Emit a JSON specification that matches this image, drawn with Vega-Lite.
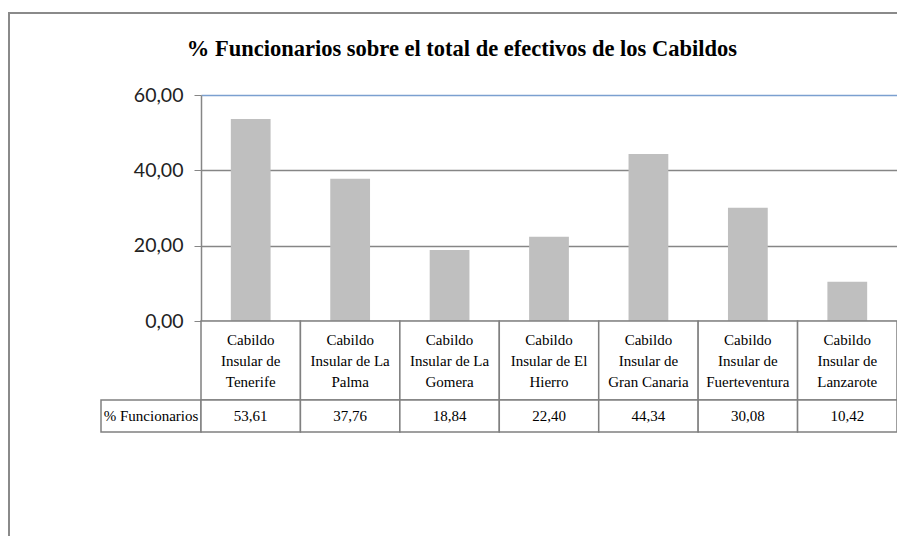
{
  "$schema": "https://vega.github.io/schema/vega-lite/v6.json",
  "padding": {"left": 8, "top": 12, "right": 0, "bottom": 0},
  "background": "white",
  "datasets": {
    "cab": [
      {"cabildo": "Cabildo\nInsular de\nTenerife", "pct": 53.61},
      {"cabildo": "Cabildo\nInsular de La\nPalma", "pct": 37.76},
      {"cabildo": "Cabildo\nInsular de La\nGomera", "pct": 18.84},
      {"cabildo": "Cabildo\nInsular de El\nHierro", "pct": 22.40},
      {"cabildo": "Cabildo\nInsular de\nGran Canaria", "pct": 44.34},
      {"cabildo": "Cabildo\nInsular de\nFuerteventura", "pct": 30.08},
      {"cabildo": "Cabildo\nInsular de\nLanzarote", "pct": 10.42}
    ],
    "serie": [{"serie": "% Funcionarios"}]
  },
  "hconcat": [
    {
      "width": 2,
      "height": 524,
      "data": {"values": []},
      "mark": "text",
      "view": {"stroke": null, "fill": "#8A8A8A"}
    },
    {
      "spacing": 81,
      "bounds": "flush",
      "vconcat": [
        {
          "width": 887,
          "height": 2,
          "data": {"values": []},
          "mark": "text",
          "view": {"stroke": null, "fill": "#8A8A8A"}
        },
        {
          "title": {
            "text": "% Funcionarios sobre el total de efectivos de los Cabildos",
            "font": "Liberation Serif",
            "fontSize": 22.5,
            "fontWeight": "bold",
            "color": "#000000",
            "anchor": "middle",
            "dx": 8,
            "offset": 25
          },
          "columns": 2,
          "spacing": 0,
          "bounds": "flush",
          "resolve": {"scale": {"x": "independent", "y": "independent"}},
          "concat": [
            {
              "width": 191,
              "height": 226,
              "data": {"values": []},
              "mark": "text",
              "view": {"stroke": null}
            },
            {
              "width": 696,
              "height": 226,
              "data": {"name": "cab"},
              "mark": {"type": "bar", "color": "#BFBFBF"},
              "encoding": {
                "x": {
                  "field": "cabildo",
                  "type": "nominal",
                  "sort": null,
                  "scale": {"paddingInner": 0.6, "paddingOuter": 0.3},
                  "axis": null
                },
                "y": {
                  "field": "pct",
                  "type": "quantitative",
                  "scale": {"domain": [0, 60], "nice": false},
                  "axis": {
                    "title": null,
                    "values": [0, 20, 40, 60],
                    "format": ".2f",
                    "labelFont": "Lato",
                    "labelFontSize": 19.5,
                    "labelColor": "#222222",
                    "labelPadding": 11,
                    "tickSize": 7,
                    "tickColor": "#868686",
                    "domainColor": "#868686",
                    "domainWidth": 1.5,
                    "grid": true,
                    "gridColor": {"condition": {"test": "datum.value == 60", "value": "#7BA0D0"}, "value": "#868686"},
                    "gridWidth": 1.5,
                    "gridOpacity": 1
                  }
                }
              },
              "view": {"stroke": null}
            },
            {
              "width": 191,
              "height": 79,
              "data": {"values": []},
              "mark": "text",
              "view": {"stroke": null}
            },
            {
              "width": 696,
              "height": 79,
              "data": {"name": "cab"},
              "view": {"stroke": null},
              "encoding": {
                "x": {
                  "field": "cabildo",
                  "type": "nominal",
                  "sort": null,
                  "scale": {"paddingInner": 0, "paddingOuter": 0},
                  "axis": null
                }
              },
              "layer": [
                {"mark": {"type": "rect", "fill": "white", "stroke": "#808080", "strokeWidth": 1.5}},
                {
                  "mark": {"type": "text", "font": "Liberation Serif", "fontSize": 15, "lineBreak": "\n", "lineHeight": 21, "baseline": "middle", "dy": -21, "color": "#000000"},
                  "encoding": {"text": {"field": "cabildo"}}
                }
              ]
            },
            {
              "hconcat": [
                {
                  "width": 91,
                  "height": 32,
                  "data": {"values": []},
                  "mark": "text",
                  "view": {"stroke": null}
                },
                {
                  "width": 100,
                  "height": 32,
                  "data": {"name": "serie"},
                  "view": {"stroke": "#808080", "strokeWidth": 1.5, "fill": "white"},
                  "mark": {"type": "text", "font": "Liberation Serif", "fontSize": 15, "color": "#000000"},
                  "encoding": {"text": {"field": "serie"}}
                }
              ],
              "spacing": 0,
              "bounds": "flush"
            },
            {
              "width": 696,
              "height": 32,
              "data": {"name": "cab"},
              "view": {"stroke": null},
              "encoding": {
                "x": {
                  "field": "cabildo",
                  "type": "nominal",
                  "sort": null,
                  "scale": {"paddingInner": 0, "paddingOuter": 0},
                  "axis": null
                }
              },
              "layer": [
                {"mark": {"type": "rect", "fill": "white", "stroke": "#808080", "strokeWidth": 1.5}},
                {
                  "mark": {"type": "text", "font": "Liberation Serif", "fontSize": 15, "color": "#000000"},
                  "encoding": {"text": {"field": "pct", "type": "quantitative", "format": ".2f"}}
                }
              ]
            }
          ]
        }
      ]
    }
  ],
  "spacing": 0,
  "bounds": "flush",
  "config": {
    "locale": {"number": {"decimal": ",", "thousands": ".", "grouping": [3], "currency": ["", " €"]}},
    "axis": {"labelFont": "Lato"}
  }
}
